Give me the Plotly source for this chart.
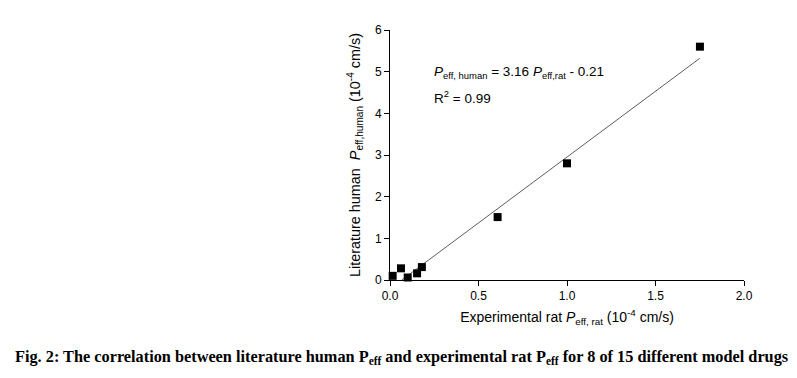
import plotly.graph_objects as go
import numpy as np

rat_peff = [0.015, 0.062, 0.10, 0.153, 0.18, 0.608, 1.0, 1.751]
human_peff = [0.10, 0.28, 0.06, 0.16, 0.31, 1.51, 2.80, 5.60]
slope = 3.16
intercept = -0.21
fit_x_range = [0.066, 1.75]
x_ticks = [0.0, 0.5, 1.0, 1.5, 2.0]
x_tick_labels = ["0.0", "0.5", "1.0", "1.5", "2.0"]
y_ticks = [0, 1, 2, 3, 4, 5, 6]

fit_x = np.array(fit_x_range)
fit_y = slope * fit_x + intercept

fig = go.Figure()
fig.add_trace(go.Scatter(x=fit_x, y=fit_y, mode="lines",
                         line=dict(color="#333333", width=0.8), showlegend=False))
fig.add_trace(go.Scatter(x=rat_peff, y=human_peff, mode="markers",
                         marker=dict(symbol="square", size=8, color="black"),
                         cliponaxis=False, showlegend=False))

font = "Liberation Sans, Arial, sans-serif"
L, R, T, B = 382, 61, 22, 106
W, H = 797, 378
fig.update_layout(
    width=W, height=H,
    margin=dict(l=L, r=R, t=T, b=B),
    paper_bgcolor="white", plot_bgcolor="white",
    font=dict(family=font, color="black"),
    xaxis=dict(range=[0, 2], tickvals=x_ticks, ticktext=x_tick_labels,
               showgrid=False, zeroline=False, showline=True, linecolor="black",
               linewidth=1, ticks="outside", ticklen=5, tickcolor="black",
               tickfont=dict(size=12),
               title=dict(text="Experimental rat <i>P</i><sub>eff, rat</sub> (10<sup>-4</sup> cm/s)",
                          font=dict(size=14), standoff=9)),
    yaxis=dict(range=[0, 6], tickvals=y_ticks,
               showgrid=False, zeroline=False, showline=True, linecolor="black",
               linewidth=1, ticks="outside", ticklen=5, tickcolor="black",
               tickfont=dict(size=12),
               title=dict(text="Literature human  <i>P</i><sub>eff,human</sub> (10<sup>-4</sup> cm/s)",
                          font=dict(size=14.4), standoff=10)),
)
plot_w = W - L - R
plot_h = H - T - B
fig.add_annotation(x=0.237, y=4.99, xref="x", yref="y", xanchor="left", yanchor="middle",
                   text="<i>P</i><sub>eff, human</sub> = 3.16 <i>P</i><sub>eff,rat</sub> - 0.21",
                   showarrow=False, font=dict(size=13.5, family=font))
fig.add_annotation(x=0.237, y=4.39, xref="x", yref="y", xanchor="left", yanchor="middle",
                   text="R<sup>2</sup> = 0.99",
                   showarrow=False, font=dict(size=13.5, family=font))
fig.add_annotation(x=(393 - L) / plot_w, y=(H - B - 349) / plot_h,
                   xref="paper", yref="paper", xanchor="center", yanchor="middle",
                   showarrow=False,
                   text="<b>Fig. 2: The correlation between literature human P<sub>eff</sub> and experimental rat P<sub>eff</sub> for 8 of 15 different model drugs</b>",
                   font=dict(size=16.3, family="Liberation Serif, Times New Roman, serif"))
fig.write_html("out.html")
